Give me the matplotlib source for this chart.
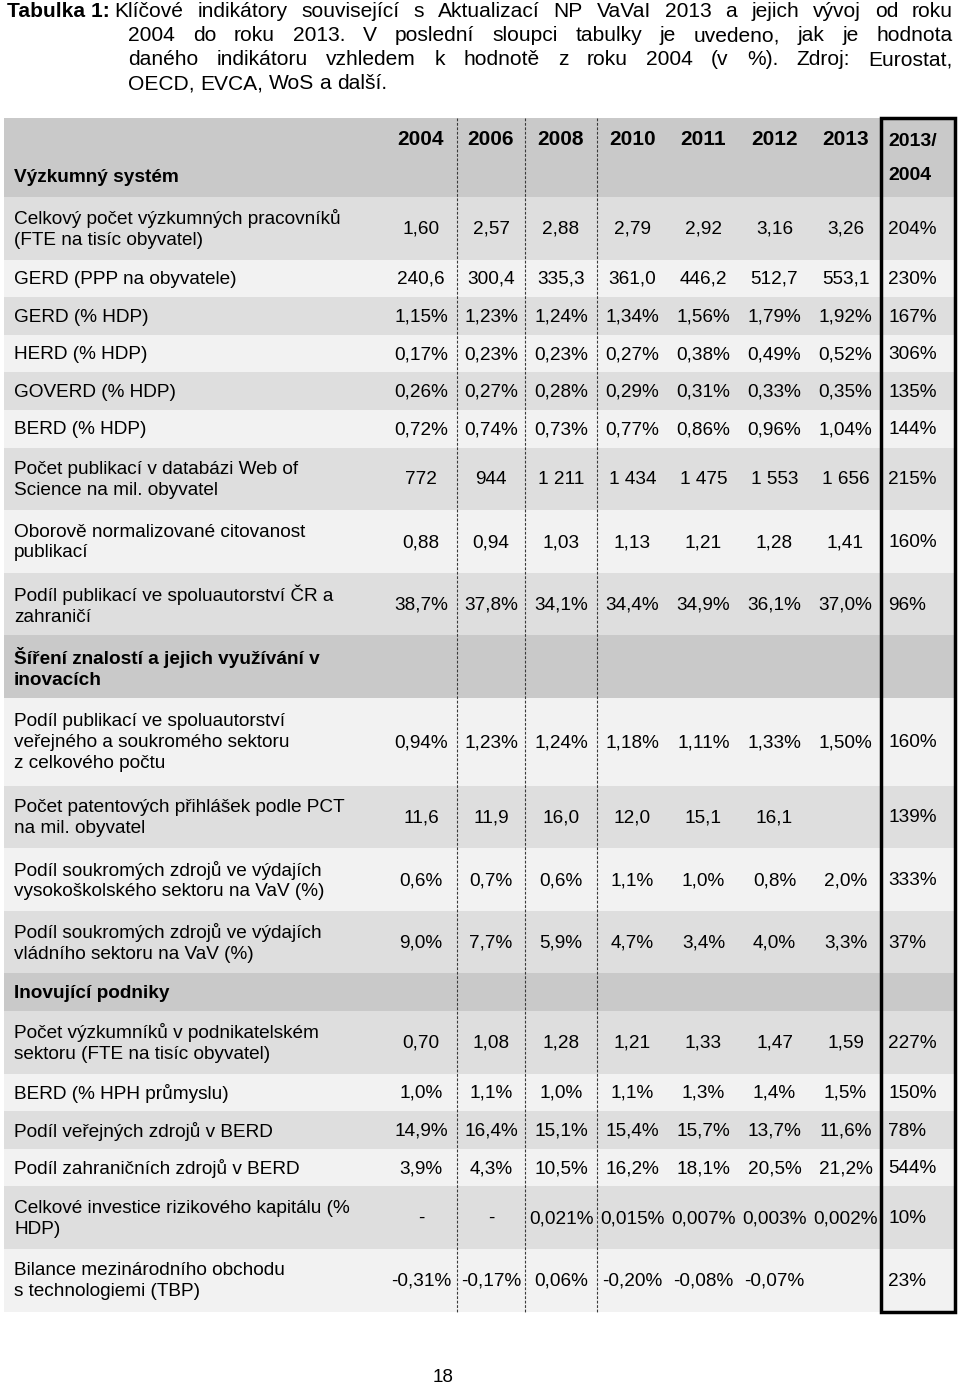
import matplotlib.pyplot as plt
from matplotlib.patches import Rectangle

plt.rcParams['font.family'] = ['Liberation Sans', 'DejaVu Sans']

title_lines = [
    "Tabulka 1: Klíčové indikátory související s Aktualizací NP VaVaI 2013 a jejich vývoj od roku",
    "2004 do roku 2013. V poslední sloupci tabulky je uvedeno, jak je hodnota",
    "daného indikátoru vzhledem k hodnotě z roku 2004 (v %). Zdroj: Eurostat,",
    "OECD, EVCA, WoS a další.",
]

years = ['2004', '2006', '2008', '2010', '2011', '2012', '2013']
head_label = "Výzkumný systém"
ratio_head = "2013/\n2004"

row_labels = [
    "Celkový počet výzkumných pracovníků\n(FTE na tisíc obyvatel)",
    "GERD (PPP na obyvatele)",
    "GERD (% HDP)",
    "HERD (% HDP)",
    "GOVERD (% HDP)",
    "BERD (% HDP)",
    "Počet publikací v databázi Web of\nScience na mil. obyvatel",
    "Oborově normalizované citovanost\npublikací",
    "Podíl publikací ve spoluautorství ČR a\nzahraničí",
    "Šíření znalostí a jejich využívání v\ninovacích",
    "Podíl publikací ve spoluautorství\nveřejného a soukromého sektoru\nz celkového počtu",
    "Počet patentových přihlášek podle PCT\nna mil. obyvatel",
    "Podíl soukromých zdrojů ve výdajích\nvysokoškolského sektoru na VaV (%)",
    "Podíl soukromých zdrojů ve výdajích\nvládního sektoru na VaV (%)",
    "Inovující podniky",
    "Počet výzkumníků v podnikatelském\nsektoru (FTE na tisíc obyvatel)",
    "BERD (% HPH průmyslu)",
    "Podíl veřejných zdrojů v BERD",
    "Podíl zahraničních zdrojů v BERD",
    "Celkové investice rizikového kapitálu (%\nHDP)",
    "Bilance mezinárodního obchodu\ns technologiemi (TBP)",
]
section_rows = [9, 14]

v2004 = ["1,60", "240,6", "1,15%", "0,17%", "0,26%", "0,72%", "772", "0,88", "38,7%", "",
         "0,94%", "11,6", "0,6%", "9,0%", "", "0,70", "1,0%", "14,9%", "3,9%", "-", "-0,31%"]
v2006 = ["2,57", "300,4", "1,23%", "0,23%", "0,27%", "0,74%", "944", "0,94", "37,8%", "",
         "1,23%", "11,9", "0,7%", "7,7%", "", "1,08", "1,1%", "16,4%", "4,3%", "-", "-0,17%"]
v2008 = ["2,88", "335,3", "1,24%", "0,23%", "0,28%", "0,73%", "1 211", "1,03", "34,1%", "",
         "1,24%", "16,0", "0,6%", "5,9%", "", "1,28", "1,0%", "15,1%", "10,5%", "0,021%", "0,06%"]
v2010 = ["2,79", "361,0", "1,34%", "0,27%", "0,29%", "0,77%", "1 434", "1,13", "34,4%", "",
         "1,18%", "12,0", "1,1%", "4,7%", "", "1,21", "1,1%", "15,4%", "16,2%", "0,015%", "-0,20%"]
v2011 = ["2,92", "446,2", "1,56%", "0,38%", "0,31%", "0,86%", "1 475", "1,21", "34,9%", "",
         "1,11%", "15,1", "1,0%", "3,4%", "", "1,33", "1,3%", "15,7%", "18,1%", "0,007%", "-0,08%"]
v2012 = ["3,16", "512,7", "1,79%", "0,49%", "0,33%", "0,96%", "1 553", "1,28", "36,1%", "",
         "1,33%", "16,1", "0,8%", "4,0%", "", "1,47", "1,4%", "13,7%", "20,5%", "0,003%", "-0,07%"]
v2013 = ["3,26", "553,1", "1,92%", "0,52%", "0,35%", "1,04%", "1 656", "1,41", "37,0%", "",
         "1,50%", "", "2,0%", "3,3%", "", "1,59", "1,5%", "11,6%", "21,2%", "0,002%", ""]
ratio = ["204%", "230%", "167%", "306%", "135%", "144%", "215%", "160%", "96%", "",
         "160%", "139%", "333%", "37%", "", "227%", "150%", "78%", "544%", "10%", "23%"]
columns = [v2004, v2006, v2008, v2010, v2011, v2012, v2013]

# row shading as in the original (g = gray, l = light, s = section)
shades = ['g', 'l', 'g', 'l', 'g', 'l', 'g', 'l', 'g', 's', 'l',
          'g', 'l', 'g', 's', 'g', 'l', 'g', 'l', 'g', 'l']
shade_color = {'g': '#dedede', 'l': '#f2f2f2', 's': '#c9c9c9'}
head_color = '#c9c9c9'

FS = 13.7       # table text
FS_T = 15.1     # caption
FS_Y = 15.0     # year headings
W, H = 960, 1388
fig = plt.figure(figsize=(W / 100, H / 100), dpi=100)
ax = fig.add_axes([0, 0, 1, 1])
ax.set_xlim(0, W)
ax.set_ylim(H, 0)
ax.axis('off')

renderer = fig.canvas.get_renderer()


def put_line(words, x0, x1, y, justify, space=5.5):
    txts = [ax.text(x0, y, w, fontsize=FS_T, va='baseline', ha='left') for w in words]
    widths = [t.get_window_extent(renderer).width for t in txts]
    if justify and len(words) > 1:
        gap = (x1 - x0 - sum(widths)) / (len(words) - 1)
    else:
        gap = space
    x = x0
    for t, w in zip(txts, widths):
        t.set_x(x)
        x += w + gap


# caption: bold "Tabulka 1:" followed by justified text with a hanging indent
lab = ax.text(7, 17, "Tabulka 1:", fontsize=FS_T, fontweight='bold', va='baseline', ha='left')
lab_w = lab.get_window_extent(renderer).width
put_line(title_lines[0].split(' ')[2:], 7 + lab_w + 5, 953, 17, True)
put_line(title_lines[1].split(' '), 128, 953, 41, True)
put_line(title_lines[2].split(' '), 128, 953, 65, True)
put_line(title_lines[3].split(' '), 128, 953, 89, False)

# --- table geometry
x_left, x_right = 4, 955
col_edges = [385, 457, 525, 597, 668, 739, 810, 881, 955]
top, head_h = 118, 79

ax.add_patch(Rectangle((x_left, top), x_right - x_left, head_h, color=head_color, lw=0))
for j, yr in enumerate(years):
    cx = (col_edges[j] + col_edges[j + 1]) / 2
    ax.text(cx, top + 21, yr, fontsize=FS_Y, fontweight='bold', ha='center', va='center')
ax.text(14, top + 59, head_label, fontsize=FS, fontweight='bold', ha='left', va='center')
ax.text(888, top + 23, ratio_head.split('\n')[0], fontsize=FS + 0.3, fontweight='bold', ha='left', va='center')
ax.text(888, top + 57, ratio_head.split('\n')[1], fontsize=FS + 0.3, fontweight='bold', ha='left', va='center')

y = top + head_h
for i, lab in enumerate(row_labels):
    n = lab.count('\n') + 1
    h = 12.6 + 25 * n
    ax.add_patch(Rectangle((x_left, y), x_right - x_left, h, color=shade_color[shades[i]], lw=0))
    cy = y + h / 2
    bold = i in section_rows
    ax.text(14, cy + 1, lab, fontsize=FS, ha='left', va='center', linespacing=1.3,
            fontweight='bold' if bold else 'normal')
    for j, col in enumerate(columns):
        cx = (col_edges[j] + col_edges[j + 1]) / 2
        if col[i]:
            ax.text(cx, cy + 1, col[i], fontsize=FS, ha='center', va='center')
    if ratio[i]:
        ax.text(888, cy + 1, ratio[i], fontsize=FS, ha='left', va='center')
    y += h
bottom = y

# dashed separators between the first year columns
for xe in col_edges[1:4]:
    ax.plot([xe, xe], [top, bottom], color='#3a3a3a', lw=0.8, ls=(0, (2.5, 1.5)))

# thick frame round the last column
ax.add_patch(Rectangle((col_edges[7], top), col_edges[8] - col_edges[7], bottom - top,
                       fill=False, ec='black', lw=2.5))

ax.text(443, 1378, "18", fontsize=13.5, ha='center', va='center',
        family=['Liberation Sans Narrow', 'Liberation Sans'])

fig.savefig('out.png', dpi=100)
